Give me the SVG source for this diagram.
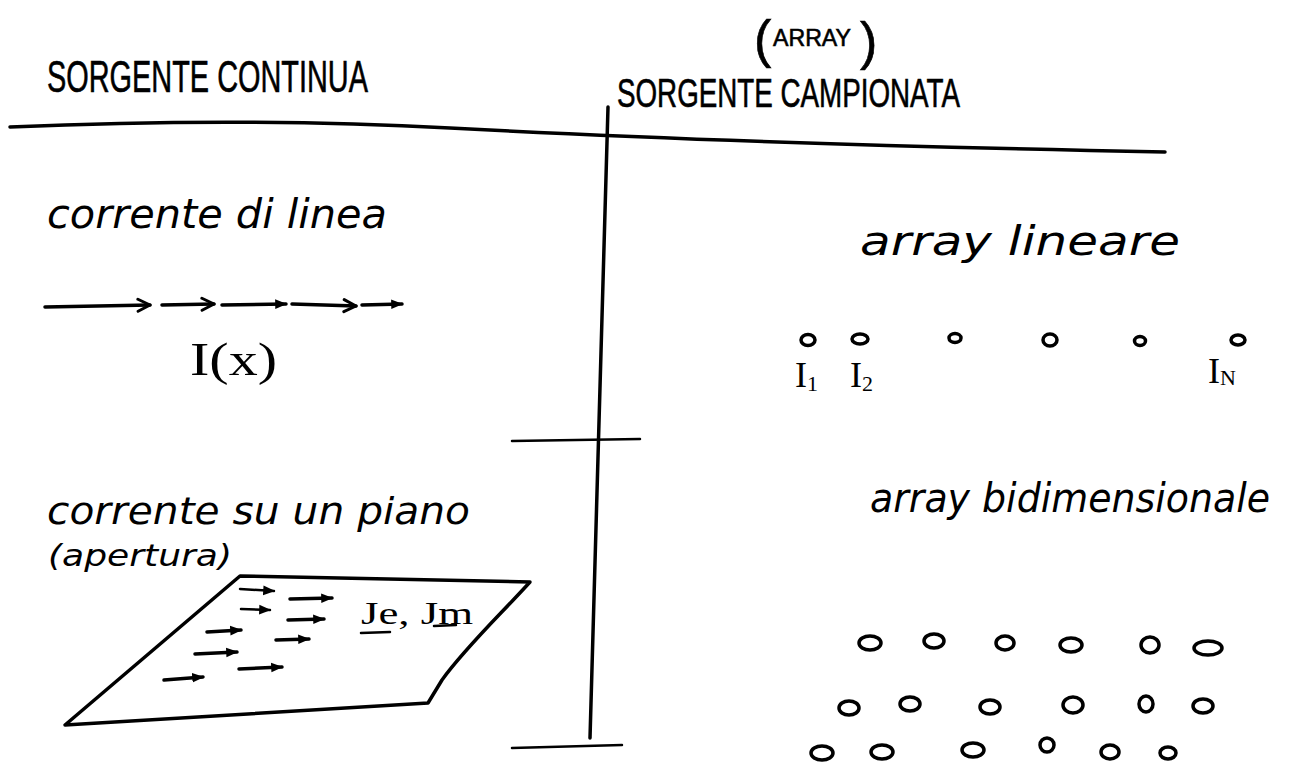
<svg xmlns="http://www.w3.org/2000/svg" width="1290" height="762" viewBox="0 0 1290 762">
<style>
  .ink { fill: none; stroke: #000; stroke-width: 3.5; stroke-linecap: round; stroke-linejoin: round; }
  .thin { fill: none; stroke: #000; stroke-width: 2.5; stroke-linecap: round; stroke-linejoin: round; }
  .caps { font-family: "Liberation Sans", Arial, sans-serif; fill: #000; stroke: #000; stroke-width: 0.6; }
  .hand { font-family: "DejaVu Sans", "Liberation Sans", sans-serif; font-style: italic; fill: #000; }
  .sym { font-family: "Liberation Serif", "Times New Roman", serif; fill: #000; }
  .dot { fill: none; stroke: #000; stroke-width: 3.5; }
</style>
<defs>
  <marker id="chev" viewBox="0 0 16 16" refX="14" refY="8" markerWidth="16" markerHeight="16" markerUnits="userSpaceOnUse" orient="auto">
    <path d="M2,2 L14,8 L2,14" fill="none" stroke="#000" stroke-width="3" stroke-linejoin="round" stroke-linecap="round"/>
  </marker>
  <marker id="tri" viewBox="0 0 10 10" refX="9" refY="5" markerWidth="12" markerHeight="12" markerUnits="userSpaceOnUse" orient="auto">
    <path d="M0,1 L10,5 L0,9 Z" fill="#000"/>
  </marker>
</defs>

<g id="frame">
  <path class="ink" d="M10,127 C150,121 300,120 450,128 C600,136 800,145 1165,152"/>
  <path class="ink" d="M608,107 L590,738"/>
  <path class="thin" d="M512,441 L640,439"/>
  <path class="thin" d="M512,748 L622,745"/>
</g>

<g id="heading-left">
  <text class="caps" x="47" y="92" font-size="44" textLength="321" lengthAdjust="spacingAndGlyphs">SORGENTE CONTINUA</text>
</g>

<g id="heading-right">
  <text class="caps" x="754" y="57" font-size="52" stroke-width="0">(</text>
  <text class="caps" x="773" y="46" font-size="24" textLength="78" lengthAdjust="spacingAndGlyphs">ARRAY</text>
  <text class="caps" x="860" y="59" font-size="52" stroke-width="0">)</text>
  <text class="caps" x="617" y="107" font-size="40" textLength="343" lengthAdjust="spacingAndGlyphs">SORGENTE CAMPIONATA</text>
</g>

<g id="line-current">
  <text class="hand" x="47" y="228" font-size="40" textLength="340" lengthAdjust="spacingAndGlyphs">corrente di linea</text>
  <text class="sym" x="190" y="375" font-size="46" textLength="87" lengthAdjust="spacingAndGlyphs">I(x)</text>
</g>

<g id="plane-current">
  <text class="hand" x="47" y="524" font-size="38" textLength="423" lengthAdjust="spacingAndGlyphs">corrente su un piano</text>
  <text class="hand" x="48" y="566" font-size="30" textLength="184" lengthAdjust="spacingAndGlyphs">(apertura)</text>
  <path class="ink" d="M240,576 L530,582 C500,615 465,648 442,680 L428,703 L65,725 Z"/>
  <text class="sym" x="361" y="624" font-size="32" textLength="112" lengthAdjust="spacingAndGlyphs">Je, Jm</text>
  <path class="thin" d="M361,633 L390,632"/>
  <path class="thin" d="M434,626 L456,625"/>
</g>

<g id="linear-array">
  <text class="hand" x="860" y="255" font-size="40" textLength="320" lengthAdjust="spacingAndGlyphs">array lineare</text>
  <ellipse class="dot" cx="808" cy="340" rx="7" ry="5.5"/>
  <ellipse class="dot" cx="860" cy="339" rx="8" ry="5"/>
  <ellipse class="dot" cx="955" cy="338" rx="6" ry="4.5"/>
  <ellipse class="dot" cx="1050" cy="340" rx="7" ry="6"/>
  <ellipse class="dot" cx="1140" cy="341" rx="5.5" ry="4.5"/>
  <ellipse class="dot" cx="1238" cy="340" rx="7" ry="5"/>
  <text class="sym" x="795" y="387" font-size="36">I<tspan font-size="22" dy="4">1</tspan></text>
  <text class="sym" x="850" y="387" font-size="36">I<tspan font-size="22" dy="4">2</tspan></text>
  <text class="sym" x="1208" y="383" font-size="36">I<tspan font-size="22" dy="2">N</tspan></text>
</g>

<g id="planar-array">
  <text class="hand" x="870" y="512" font-size="40" textLength="400" lengthAdjust="spacingAndGlyphs">array bidimensionale</text>
  <ellipse class="dot" cx="870" cy="643" rx="11" ry="7"/>
  <ellipse class="dot" cx="934" cy="641" rx="10" ry="7"/>
  <ellipse class="dot" cx="1005" cy="643" rx="9" ry="7"/>
  <ellipse class="dot" cx="1071" cy="645" rx="11" ry="7"/>
  <ellipse class="dot" cx="1150" cy="645" rx="9" ry="8"/>
  <ellipse class="dot" cx="1208" cy="648" rx="14" ry="7"/>
  <ellipse class="dot" cx="849" cy="708" rx="10" ry="7"/>
  <ellipse class="dot" cx="910" cy="704" rx="10" ry="7"/>
  <ellipse class="dot" cx="990" cy="707" rx="10" ry="7"/>
  <ellipse class="dot" cx="1073" cy="705" rx="10" ry="8"/>
  <ellipse class="dot" cx="1146" cy="704" rx="7" ry="8"/>
  <ellipse class="dot" cx="1203" cy="706" rx="10" ry="7"/>
  <ellipse class="dot" cx="822" cy="753" rx="11" ry="7"/>
  <ellipse class="dot" cx="882" cy="752" rx="11" ry="7"/>
  <ellipse class="dot" cx="973" cy="750" rx="11" ry="7"/>
  <ellipse class="dot" cx="1047" cy="745" rx="7" ry="7"/>
  <ellipse class="dot" cx="1110" cy="752" rx="9" ry="7"/>
  <ellipse class="dot" cx="1168" cy="753" rx="8" ry="6"/>
</g>

<g id="connectors">
  <path class="ink" marker-end="url(#chev)" d="M45,307 L150,305"/>
  <path class="ink" marker-end="url(#chev)" d="M162,305 L214,304"/>
  <path class="ink" marker-end="url(#tri)" d="M222,305 L286,304"/>
  <path class="ink" marker-end="url(#chev)" d="M292,304 L356,306"/>
  <path class="ink" marker-end="url(#tri)" d="M362,305 L402,304"/>
  <path class="thin" marker-end="url(#tri)" d="M240,589 L274,591"/>
  <path class="thin" marker-end="url(#tri)" d="M241,609 L270,610"/>
  <path class="ink" marker-end="url(#tri)" d="M290,599 L332,598"/>
  <path class="ink" marker-end="url(#tri)" d="M288,620 L324,619"/>
  <path class="ink" marker-end="url(#tri)" d="M207,632 L241,630"/>
  <path class="ink" marker-end="url(#tri)" d="M276,640 L309,639"/>
  <path class="ink" marker-end="url(#tri)" d="M195,654 L237,652"/>
  <path class="ink" marker-end="url(#tri)" d="M239,669 L282,667"/>
  <path class="ink" marker-end="url(#tri)" d="M164,680 L203,677"/>
</g>
</svg>
